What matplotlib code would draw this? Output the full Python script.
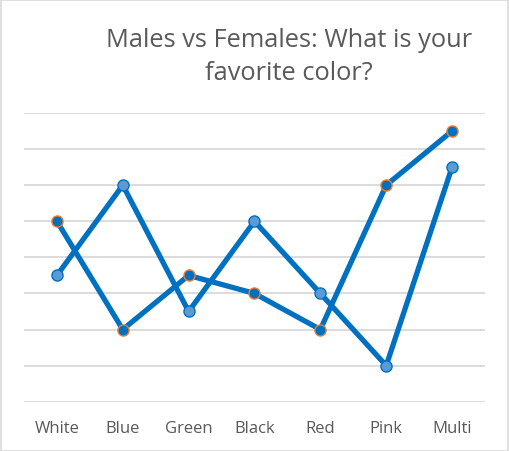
import matplotlib.pyplot as plt
import numpy as np

categories = ["White", "Blue", "Green", "Black", "Red", "Pink", "Multi"]
males = [3.5, 6, 2.5, 5, 3, 1, 6.5]
females = [5, 2, 3.5, 3, 2, 6, 7.5]

LINE = "#0070C0"
GRID = "#D9D9D9"
TEXT = "#595959"

fig = plt.figure(figsize=(5.09, 4.52), dpi=100)
fig.patch.set_facecolor("white")
fig.patches.append(plt.Rectangle((0.001, 0.001), 0.997, 0.997, transform=fig.transFigure,
                                 fill=False, edgecolor=GRID, linewidth=1.2))

ax = fig.add_axes([24 / 509, 49.3 / 452, 461 / 509, 288.7 / 452])
x = np.arange(len(categories))

ax.plot(x, males, color=LINE, lw=3.8, marker="o", markersize=8,
        markerfacecolor="#5B9BD5", markeredgecolor=LINE, markeredgewidth=1, zorder=3)
ax.plot(x, females, color=LINE, lw=3.8, marker="o", markersize=8,
        markerfacecolor=LINE, markeredgecolor="#ED7D31", markeredgewidth=1, zorder=3)

ax.set_xlim(-0.5, len(categories) - 0.5)
ax.set_ylim(0, 8)
ax.set_yticks(np.arange(0, 9))
ax.yaxis.grid(True, color=GRID, lw=1.3)
ax.set_axisbelow(True)
ax.tick_params(axis="y", left=False, labelleft=False)
ax.tick_params(axis="x", length=0, pad=13, labelsize=12, labelcolor=TEXT)
ax.set_xticks(x)
ax.set_xticklabels(categories, fontfamily="Open Sans")
for s in ax.spines.values():
    s.set_visible(False)

title_lines = ["Males vs Females: What is your", "favorite color?"]
for i, line in enumerate(title_lines):
    fig.text(289 / 509, 1 - (47 + 33 * i) / 452, line, ha="center", va="baseline",
             fontsize=18.3, color=TEXT, fontfamily="Open Sans")

fig.savefig("out.png", dpi=100)
